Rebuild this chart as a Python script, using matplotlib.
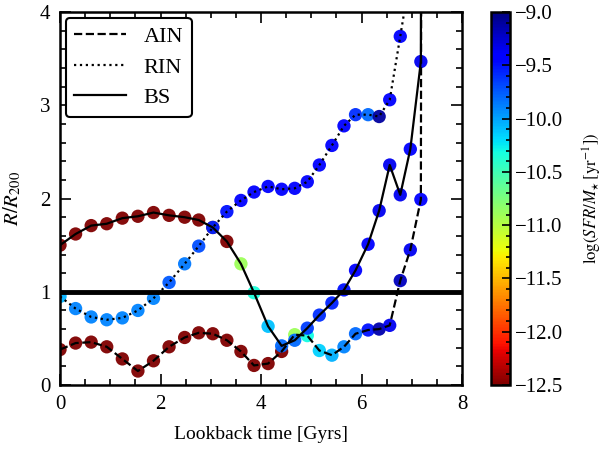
import numpy as np
import matplotlib
matplotlib.use("Agg")
import matplotlib.pyplot as plt
from matplotlib.ticker import MultipleLocator

# 字体: Times 风格
plt.rcParams['font.family'] = 'serif'
plt.rcParams['font.serif'] = ['Liberation Serif', 'DejaVu Serif']
plt.rcParams['mathtext.fontset'] = 'stix'

# lookback time (Gyr), 三条轨迹共用
t = [0.00, 0.31, 0.62, 0.93, 1.24, 1.55, 1.86, 2.17, 2.48, 2.76, 3.04, 3.32, 3.60, 3.86,
     4.14, 4.41, 4.67, 4.92, 5.16, 5.41, 5.65, 5.88, 6.13, 6.35, 6.56, 6.77, 6.97, 7.18, 7.39]

# R/R200
r_ain = [0.38, 0.45, 0.46, 0.41, 0.28, 0.15, 0.26, 0.41, 0.51, 0.56, 0.55, 0.48, 0.36, 0.21,
         0.23, 0.36, 0.54, 0.53, 0.37, 0.32, 0.41, 0.55, 0.59, 0.60, 0.64, 1.12, 1.45, 1.99, 80.0]
r_rin = [0.95, 0.82, 0.73, 0.70, 0.72, 0.80, 0.93, 1.10, 1.30, 1.49, 1.69, 1.86, 1.98, 2.07,
         2.13, 2.10, 2.11, 2.18, 2.36, 2.57, 2.78, 2.90, 2.90, 2.88, 3.06, 3.74, 4.40]
r_bs = [1.50, 1.62, 1.71, 1.73, 1.79, 1.81, 1.85, 1.82, 1.80, 1.77, 1.69, 1.54, 1.30, 0.99,
        0.63, 0.42, 0.48, 0.61, 0.75, 0.88, 1.02, 1.23, 1.51, 1.87, 2.36, 2.04, 2.53, 3.47, 80.0]

# log(SFR/M*) 颜色
s_ain = [-12.5] * 16 + [-10.9, -10.3, -10.15, -10.05, -9.9, -9.8, -9.5, -9.15, -9.35,
                        -9.2, -9.35, -9.4, -9.4]
s_rin = [-10.05, -9.9, -9.9, -9.9, -9.9, -9.9, -9.9, -9.75, -9.85, -9.7, -9.55, -9.5, -9.45,
         -9.45, -9.45, -9.45, -9.45, -9.45, -9.45, -9.45, -9.45, -9.6, -9.8, -9.1, -9.4, -9.4, -9.4]
s_bs = [-12.5] * 12 + [-10.9, -10.35, -10.1, -9.8, -9.8, -9.65, -9.6, -9.55, -9.5, -9.45,
                       -9.4, -9.35, -9.35, -9.35, -9.4, -9.35, -9.35]

fig = plt.figure(figsize=(6.08, 4.49), dpi=100)
ax = fig.add_axes([0.0987, 0.1425, 0.6613, 0.8305])
cax = fig.add_axes([0.8076, 0.1425, 0.031, 0.8305])

cmap = 'jet_r'
vmin, vmax = -12.5, -9.0
msize = 92

sc = ax.scatter(t, r_ain, c=s_ain, cmap=cmap, vmin=vmin, vmax=vmax, s=msize,
                edgecolors='none', alpha=0.95, zorder=2)
ax.scatter(t, r_bs, c=s_bs, cmap=cmap, vmin=vmin, vmax=vmax, s=msize,
           edgecolors='none', alpha=0.95, zorder=2)
ax.scatter(t[:len(r_rin)], r_rin, c=s_rin, cmap=cmap, vmin=vmin, vmax=vmax, s=msize,
           edgecolors='none', alpha=0.95, zorder=2)

ax.plot(t, r_ain, 'k--', lw=1.6, label='AIN', zorder=3)
ax.plot(t[:len(r_rin)], r_rin, 'k:', lw=1.6, label='RIN', zorder=3)
ax.plot(t, r_bs, 'k-', lw=1.6, label='BS', zorder=3)

ax.axhline(1.0, color='k', lw=3.5, zorder=4)

ax.set_xlim(0, 8)
ax.set_ylim(0, 4)
ax.xaxis.set_major_locator(MultipleLocator(2))
ax.xaxis.set_minor_locator(MultipleLocator(0.5))
ax.yaxis.set_major_locator(MultipleLocator(1))
ax.yaxis.set_minor_locator(MultipleLocator(0.2))
ax.tick_params(which='both', direction='in', top=True, right=True, labelsize=15, width=1.2)
ax.tick_params(which='major', length=8, pad=7)
ax.tick_params(which='minor', length=4)
for sp in ax.spines.values():
    sp.set_linewidth(1.8)

ax.set_xlabel('Lookback time [Gyrs]', fontsize=14, labelpad=9)
ax.set_ylabel(r'$R/R_{200}$', fontsize=15, labelpad=12)

leg = ax.legend(loc='upper left', fontsize=16, handlelength=2.3, fancybox=True,
                framealpha=1, borderaxespad=0.25, labelspacing=0.45)
leg.get_frame().set_edgecolor('k')
leg.get_frame().set_linewidth(1.5)

cb = fig.colorbar(sc, cax=cax)
cb.solids.set_alpha(1)
cb.set_ticks(np.arange(-12.5, -8.99, 0.5))
cb.ax.yaxis.set_minor_locator(MultipleLocator(0.1))
cb.ax.tick_params(which='both', direction='in', labelsize=15, width=1.2)
cb.ax.tick_params(which='major', length=6)
cb.ax.tick_params(which='minor', length=3)
cb.outline.set_linewidth(1.8)
cb.set_label(r'$\log(SFR/M_{\star}\,[{\rm yr}^{-1}])$', fontsize=12, labelpad=13)

plt.savefig('out.png', dpi=100)
